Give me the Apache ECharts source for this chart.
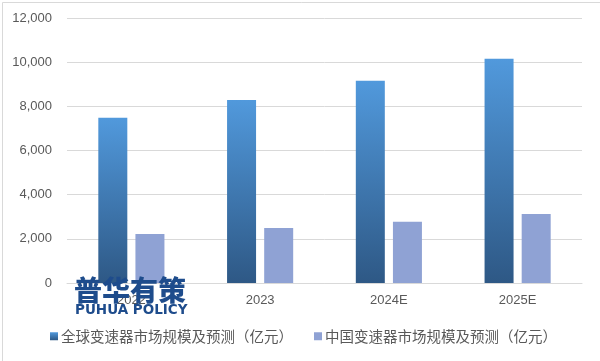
<!DOCTYPE html>
<html><head><meta charset="utf-8">
<script src="https://cdn.jsdelivr.net/npm/echarts@6/dist/echarts.min.js"></script>
<style>html,body{margin:0;padding:0;background:#fff}#c{width:600px;height:361px}</style>
</head><body><div id="c"></div>
<script>
var categories = ['2022', '2023', '2024E', '2025E'];
var globalValues = [7480, 8290, 9160, 10150];
var chinaValues = [2220, 2490, 2770, 3130];
var seriesNames = ['全球变速器市场规模及预测（亿元）', '中国变速器市场规模及预测（亿元）'];
var yTicks = {min: 0, max: 12000, interval: 2000};

var chart = echarts.init(document.getElementById('c'), null, {renderer: 'canvas'});
var font = '"Noto Sans CJK SC", "Microsoft YaHei", sans-serif';
chart.setOption({
  animation: false,
  backgroundColor: '#fff',
  textStyle: {fontFamily: font},
  grid: {left: 67, right: 18, top: 18, bottom: 78},
  legend: [{
    data: [seriesNames[0]], left: 45, top: 324, itemWidth: 8, itemHeight: 8, itemGap: 4,
    icon: 'rect', textStyle: {fontSize: 14.5, color: '#595959', fontFamily: font, padding: [0, 0, 0, -2]}
  }, {
    data: [seriesNames[1]], left: 309, top: 324, itemWidth: 8, itemHeight: 8, itemGap: 4,
    icon: 'rect', textStyle: {fontSize: 14.5, color: '#595959', fontFamily: font, padding: [0, 0, 0, -2]}
  }],
  xAxis: {
    type: 'category', data: categories,
    axisLine: {lineStyle: {color: '#d9d9d9'}}, axisTick: {show: false},
    axisLabel: {color: '#595959', fontSize: 13, margin: 11, fontFamily: 'Liberation Sans, Arial, sans-serif'}
  },
  yAxis: {
    type: 'value', min: yTicks.min, max: yTicks.max, interval: yTicks.interval,
    axisLine: {show: false}, axisTick: {show: false},
    splitLine: {lineStyle: {color: '#d9d9d9'}},
    axisLabel: {color: '#595959', fontSize: 13, margin: 15, fontFamily: 'Liberation Sans, Arial, sans-serif',
      formatter: function (v) { return v.toLocaleString('en-US'); }}
  },
  series: [{
    name: seriesNames[0], type: 'bar', data: globalValues, barWidth: 29, barGap: '28%',
    itemStyle: {color: new echarts.graphic.LinearGradient(0, 0, 0, 1, [
      {offset: 0, color: '#5199DC'}, {offset: 1, color: '#2E5885'}])}
  }, {
    name: seriesNames[1], type: 'bar', data: chinaValues, barWidth: 29,
    itemStyle: {color: '#8FA2D4'}
  }],
  graphic: [
    {type: 'rect', left: 0, top: 0, shape: {width: 599, height: 360}, style: {fill: 'none', stroke: '#d9d9d9', lineWidth: 1}, silent: true, z: 100},
    {type: 'text', left: 74, top: 276, z: 100, style: {text: '普华有策', fill: '#1E4C8C', font: '900 28px "Noto Sans CJK SC", sans-serif'}},
    {type: 'text', left: 75, top: 303, z: 100, style: {text: 'PUHUA POLICY', fill: '#1E4C8C', font: 'bold 13.5px "DejaVu Sans", sans-serif'}}
  ]
});
</script></body></html>
